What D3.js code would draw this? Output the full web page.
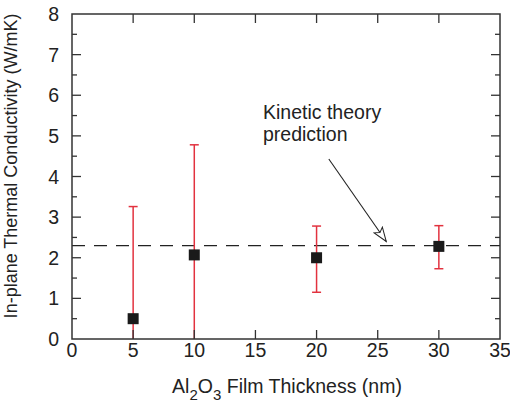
<!DOCTYPE html>
<html>
<head>
<meta charset="utf-8">
<script src="https://cdn.jsdelivr.net/npm/d3@7"></script>
<style>
  body { margin: 0; background: #fff; }
  text { font-family: "Liberation Sans", Arial, sans-serif; fill: #222; }
</style>
</head>
<body>
<div id="chart"></div>
<script>
// film thickness (nm), measured in-plane conductivity and error bar ends
const thickness = [5, 10, 20, 30];
const conductivity = [0.5, 2.07, 2.0, 2.28];
const errLow = [-2.26, -0.66, 1.15, 1.73];
const errHigh = [3.26, 4.78, 2.78, 2.79];
const kineticPrediction = 2.3;
const xTicks = [0, 5, 10, 15, 20, 25, 30, 35];
const yTicks = [0, 1, 2, 3, 4, 5, 6, 7, 8];
const yMinor = [0.5, 1.5, 2.5, 3.5, 4.5, 5.5, 6.5, 7.5];
// annotation arrow, in data units
const arrowFrom = [21.0, 4.43];
const arrowTo = [25.7, 2.4];

const width = 510, height = 407;
const margin = { top: 14, right: 10, bottom: 68, left: 72 };

const svg = d3.select('#chart')
  .append('svg')
  .attr('width', width)
  .attr('height', height);

const x = d3.scaleLinear()
  .domain([0, 35])
  .range([margin.left, width - margin.right]);

const y = d3.scaleLinear()
  .domain([0, 8])
  .range([height - margin.bottom, margin.top]);

const data = thickness.map((t, i) => ({
  t, k: conductivity[i], lo: errLow[i], hi: errHigh[i]
}));

svg.append("clipPath").attr("id", "plot")
  .append("rect")
  .attr("x", x(0)).attr("y", y(8))
  .attr("width", x(35) - x(0)).attr("height", y(0) - y(8));

const plot = svg.append("g").attr("clip-path", "url(#plot)");

// dashed kinetic theory line
plot.append("line")
  .attr("x1", x(0)).attr("x2", x(35))
  .attr("y1", y(kineticPrediction)).attr("y2", y(kineticPrediction))
  .attr("stroke", "#222")
  .attr("stroke-width", 1.2)
  .attr("stroke-dasharray", "13,9");

// error bars
const red = "#e2323f";
const bars = plot.selectAll("g.err")
  .data(data)
  .join("g")
  .attr("class", "err");

bars.append("line")
  .attr("x1", d => x(d.t)).attr("x2", d => x(d.t))
  .attr("y1", d => y(d.lo)).attr("y2", d => y(d.hi))
  .attr("stroke", red).attr("stroke-width", 1.5);

bars.append("line")
  .attr("x1", d => x(d.t) - 4.5).attr("x2", d => x(d.t) + 4.5)
  .attr("y1", d => y(d.hi)).attr("y2", d => y(d.hi))
  .attr("stroke", red).attr("stroke-width", 1.5);

bars.filter(d => d.lo > 0).append("line")
  .attr("x1", d => x(d.t) - 4.5).attr("x2", d => x(d.t) + 4.5)
  .attr("y1", d => y(d.lo)).attr("y2", d => y(d.lo))
  .attr("stroke", red).attr("stroke-width", 1.5);

// square markers
const S = 11;
plot.selectAll("rect.pt")
  .data(data)
  .join("rect")
  .attr("class", "pt")
  .attr("x", d => x(d.t) - S / 2)
  .attr("y", d => y(d.k) - S / 2)
  .attr("width", S).attr("height", S)
  .attr("fill", "#1a1a1a");

// frame
const axisColor = "#333";
svg.append("rect")
  .attr("x", x(0)).attr("y", y(8))
  .attr("width", x(35) - x(0)).attr("height", y(0) - y(8))
  .attr("fill", "none")
  .attr("stroke", axisColor)
  .attr("stroke-width", 1.5);

// inward ticks on all four sides
const tickLen = 9, minorLen = 5;
const ticks = svg.append("g").attr("stroke", axisColor).attr("stroke-width", 1.3);
xTicks.slice(1, -1).forEach(v => {
  ticks.append("line").attr("x1", x(v)).attr("x2", x(v))
    .attr("y1", y(0)).attr("y2", y(0) - tickLen);
  ticks.append("line").attr("x1", x(v)).attr("x2", x(v))
    .attr("y1", y(8)).attr("y2", y(8) + tickLen);
});
yTicks.slice(1, -1).forEach(v => {
  ticks.append("line").attr("x1", x(0)).attr("x2", x(0) + tickLen)
    .attr("y1", y(v)).attr("y2", y(v));
  ticks.append("line").attr("x1", x(35)).attr("x2", x(35) - tickLen)
    .attr("y1", y(v)).attr("y2", y(v));
});
yMinor.forEach(v => {
  ticks.append("line").attr("x1", x(0)).attr("x2", x(0) + minorLen)
    .attr("y1", y(v)).attr("y2", y(v));
  ticks.append("line").attr("x1", x(35)).attr("x2", x(35) - minorLen)
    .attr("y1", y(v)).attr("y2", y(v));
});

// tick labels
svg.append("g").selectAll("text")
  .data(xTicks)
  .join("text")
  .attr("x", d => x(d))
  .attr("y", y(0) + 17.5)
  .attr("text-anchor", "middle")
  .style("font-size", "19.5px")
  .text(d => d);

svg.append("g").selectAll("text")
  .data(yTicks)
  .join("text")
  .attr("x", x(0) - 13)
  .attr("y", d => y(d) + 7)
  .attr("text-anchor", "end")
  .style("font-size", "19.5px")
  .text(d => d);

// axis titles
const xTitle = svg.append("text")
  .attr("x", 287)
  .attr("y", 393)
  .attr("text-anchor", "middle")
  .style("font-size", "19.5px");
xTitle.append("tspan").text("Al");
xTitle.append("tspan").attr("dy", 7).style("font-size", "15px").text("2");
xTitle.append("tspan").attr("dy", -7).text("O");
xTitle.append("tspan").attr("dy", 7).style("font-size", "15px").text("3");
xTitle.append("tspan").attr("dy", -7).text(" Film Thickness (nm)");

svg.append("text")
  .attr("transform", "translate(17,166) rotate(-90)")
  .attr("text-anchor", "middle")
  .style("font-size", "18px")
  .text("In-plane Thermal Conductivity (W/mK)");

// annotation
const note = svg.append("text")
  .attr("x", 263)
  .attr("y", 118.5)
  .style("font-size", "19.5px");
note.append("tspan").attr("x", 263).text("Kinetic theory");
note.append("tspan").attr("x", 263).attr("dy", 22).text("prediction");

svg.append("defs").append("marker")
  .attr("id", "head")
  .attr("viewBox", "0 0 16 12")
  .attr("refX", 15).attr("refY", 6)
  .attr("markerWidth", 16).attr("markerHeight", 12)
  .attr("markerUnits", "userSpaceOnUse")
  .attr("orient", "auto")
  .append("path")
  .attr("d", "M1,1 L15,6 L1,11 L4,6 Z")
  .attr("fill", "#fff")
  .attr("stroke", "#222")
  .attr("stroke-width", 1);

svg.append("line")
  .attr("x1", x(arrowFrom[0])).attr("y1", y(arrowFrom[1]))
  .attr("x2", x(arrowTo[0])).attr("y2", y(arrowTo[1]))
  .attr("stroke", "#222")
  .attr("stroke-width", 1.1)
  .attr("marker-end", "url(#head)");
</script>
</body>
</html>
